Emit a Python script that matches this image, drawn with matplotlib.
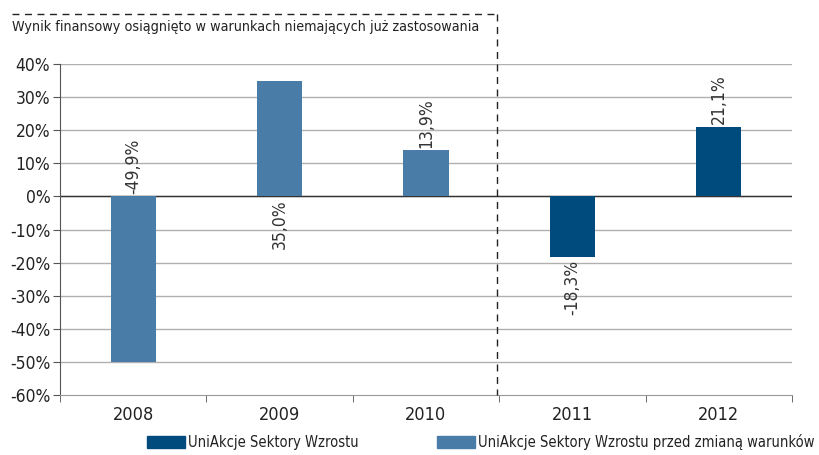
import matplotlib.pyplot as plt
from matplotlib.patches import Rectangle
from matplotlib.lines import Line2D

# data
years = ['2008', '2009', '2010', '2011', '2012']
old_values = [-49.9, 35.0, 13.9, None, None]    # przed zmiana warunkow
new_values = [None, None, None, -18.3, 21.1]    # UniAkcje Sektory Wzrostu
labels = ['-49,9%', '35,0%', '13,9%', '-18,3%', '21,1%']
yticks = [-60, -50, -40, -30, -20, -10, 0, 10, 20, 30, 40]
legend_names = ['UniAkcje Sektory Wzrostu', 'UniAkcje Sektory Wzrostu przed zmianą warunków']

dark = '#004b7d'
light = '#4a7ca8'

plt.rcParams['font.family'] = ['DejaVu Sans']
plt.rcParams['font.stretch'] = 'condensed'

fig = plt.figure(figsize=(8.19, 4.55), dpi=100)
ax = fig.add_axes([60 / 819, 1 - 395 / 455, 732 / 819, 331 / 455])

x = range(len(years))
w = 0.31
for i in x:
    if old_values[i] is not None:
        ax.bar(i, old_values[i], width=w, color=light, zorder=3)
    if new_values[i] is not None:
        ax.bar(i, new_values[i], width=w, color=dark, zorder=3)

# data labels (placement as in original)
vals = [old_values[i] if old_values[i] is not None else new_values[i] for i in x]
for i, v in enumerate(vals):
    if i == 0:
        y, va = 0.8, 'bottom'
    elif i == 1:
        y, va = -0.8, 'top'
    elif v >= 0:
        y, va = v + 0.8, 'bottom'
    else:
        y, va = v - 0.8, 'top'
    ax.text(i, y, labels[i], rotation=90, ha='center', va=va,
            fontsize=12.5, color='#333333', zorder=4)

ax.set_xlim(-0.5, 4.5)
ax.set_ylim(-60, 40)
ax.set_yticks(yticks)
ax.set_yticklabels([f'{t}%' for t in yticks], fontsize=12.5, color='#222222')
ax.set_xticks(list(x))
ax.set_xticklabels(years, fontsize=13, color='#222222')
ax.set_xticks([-0.5, 0.5, 1.5, 2.5, 3.5, 4.5], minor=True)
ax.tick_params(axis='x', which='major', length=0, pad=8)
ax.tick_params(axis='x', which='minor', length=5, color='#555555')
ax.tick_params(axis='y', length=5, color='#555555', pad=2)

for t in yticks:
    if t != -60:
        ax.axhline(t, color='#b0b0b0', lw=1, zorder=1)
ax.axhline(0, color='#333333', lw=1, zorder=2)

for s in ['top', 'right']:
    ax.spines[s].set_visible(False)
ax.spines['left'].set_color('#555555')
ax.spines['bottom'].set_color('#999999')

# dashed box marking the old-conditions period
x0 = 12 / 819
x1 = 497 / 819
ytop = 1 - 14 / 455
ybot = 1 - 395 / 455
fig.add_artist(Line2D([x0, x1], [ytop, ytop], transform=fig.transFigure,
                      color='#222222', lw=1, ls=(0, (5, 4))))
fig.add_artist(Line2D([x1, x1], [ytop, ybot], transform=fig.transFigure,
                      color='#222222', lw=1, ls=(0, (5, 4))))
fig.text(x0, 1 - 27 / 455, 'Wynik finansowy osiągnięto w warunkach niemających już zastosowania',
         fontsize=10.3, va='center', ha='left', color='#222222')

# legend drawn by hand
ly = 1 - 442 / 455
for xs, col, name in [(147, dark, legend_names[0]), (437, light, legend_names[1])]:
    fig.add_artist(Rectangle((xs / 819, ly - 6 / 455), 38 / 819, 12 / 455,
                             transform=fig.transFigure, color=col))
    fig.text((xs + 41) / 819, ly, name, fontsize=10.5, va='center', ha='left',
             color='#222222')

fig.savefig('out.png', dpi=100)
